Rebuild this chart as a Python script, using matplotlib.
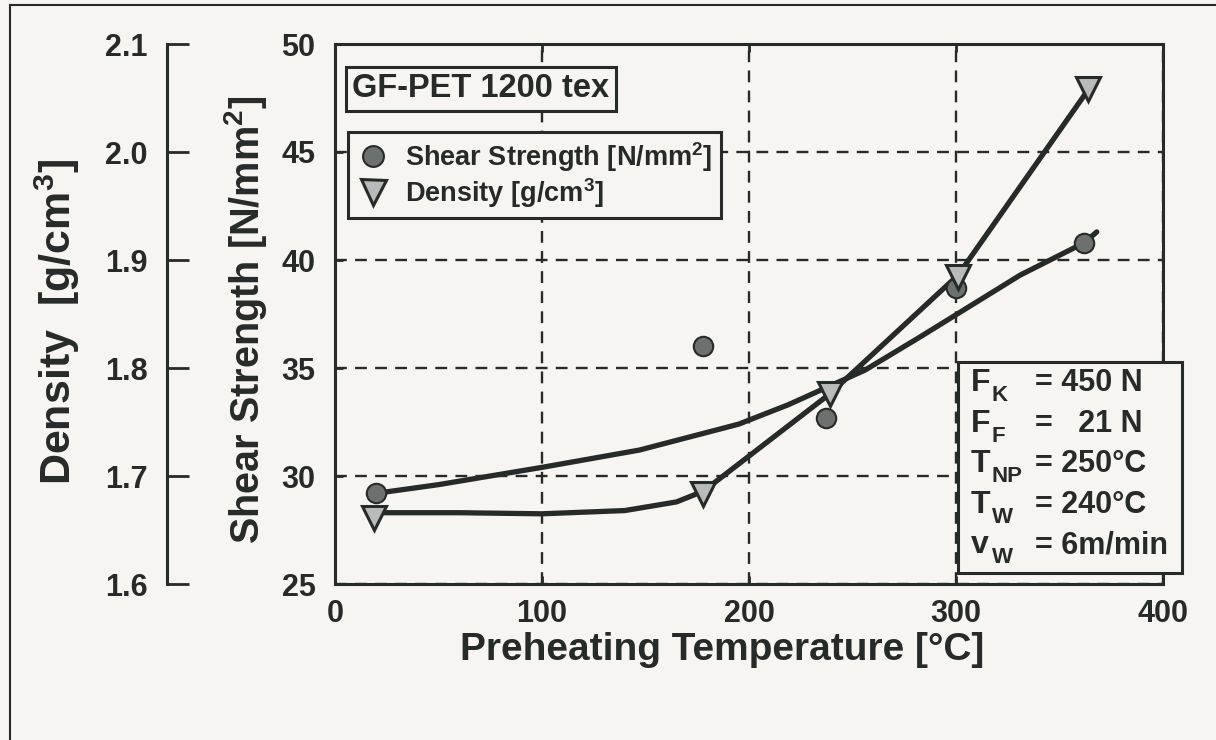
import numpy as np
import matplotlib.pyplot as plt
from matplotlib.patches import Rectangle
from matplotlib.lines import Line2D

# Schrift: fette Helvetica-Variante wie im Original
plt.rcParams['font.family'] = ['Liberation Sans', 'DejaVu Sans']
plt.rcParams['font.weight'] = 'bold'
plt.rcParams['axes.labelweight'] = 'bold'
plt.rcParams['mathtext.fontset'] = 'custom'
plt.rcParams['mathtext.rm'] = 'Liberation Sans:bold'
plt.rcParams['mathtext.bf'] = 'Liberation Sans:bold'
plt.rcParams['mathtext.it'] = 'Liberation Sans:bold'
plt.rcParams['mathtext.default'] = 'rm'

papier = '#f7f5f1'
tinte = '#262a28'

# Messpunkte
temp_shear = [20, 178, 237, 300, 362]
shear = [29.2, 36.0, 32.7, 38.7, 40.8]
temp_density = [19, 178, 239, 301, 364]
density = [1.661, 1.683, 1.776, 1.884, 2.058]

# eingezeichnete Trendkurven
shear_kurve_t = [20, 50, 100, 147, 195, 219, 256, 282, 331, 362, 368]
shear_kurve_v = [29.2, 29.6, 30.4, 31.2, 32.4, 33.3, 34.9, 36.4, 39.3, 40.8, 41.3]
density_kurve_t = [19, 60, 100, 140, 165, 178, 239, 301, 364]
density_kurve_v = [1.666, 1.666, 1.665, 1.668, 1.676, 1.686, 1.776, 1.886, 2.058]

x_ticks = [0, 100, 200, 300, 400]
shear_ticks = [25, 30, 35, 40, 45, 50]
density_ticks = [1.6, 1.7, 1.8, 1.9, 2.0, 2.1]

# Versuchsparameter: Buchstabe, Index, Wert
param_name = ['F', 'F', 'T', 'T', 'v']
param_index = ['K', 'F', 'NP', 'W', 'W']
param_wert = ['= 450 N', '=   21 N', '= 250°C', '= 240°C', '= 6m/min']

fig = plt.figure(figsize=(12.16, 7.40), dpi=100, facecolor=papier)
ax = fig.add_axes([335/1216, 1-584/740, 828/1216, 540/740])
ax.set_facecolor(papier)

ax.set_xlim(0, 400)
ax.set_ylim(25, 50)
ax.set_xticks(x_ticks)
ax.set_yticks(shear_ticks)
ax.tick_params(axis='both', direction='in', length=6, width=2, color=tinte,
               labelsize=22, top=True, right=True, colors=tinte)
ax.tick_params(axis='x', pad=11)
ax.tick_params(axis='y', pad=14)
for s in ax.spines.values():
    s.set_linewidth(2.2)
    s.set_color(tinte)
ax.grid(True, color=tinte, lw=1.7, linestyle=(0, (5, 3.5)))

ax.plot(shear_kurve_t, shear_kurve_v, color=tinte, lw=3.8, zorder=3, solid_capstyle='round')

ax2 = ax.twinx()
ax2.set_ylim(1.6, 2.1)
ax2.set_yticks(density_ticks)
ax2.set_yticklabels(['%.1f' % d for d in density_ticks])
ax2.spines['right'].set_visible(False)
ax2.spines['top'].set_visible(False)
ax2.spines['bottom'].set_visible(False)
ax2.spines['left'].set_visible(True)
ax2.spines['left'].set_position(('axes', -0.203))
ax2.spines['left'].set_linewidth(2.2)
ax2.spines['left'].set_color(tinte)
ax2.yaxis.set_ticks_position('left')
ax2.yaxis.set_label_position('left')
ax2.tick_params(axis='y', direction='in', length=16, width=2, color=tinte,
                labelsize=22, pad=14, labelcolor=tinte)

ax2.plot(density_kurve_t, density_kurve_v, color=tinte, lw=3.8, zorder=3, solid_capstyle='round')
ax2.plot(temp_shear, [1.6 + (v - 25) * 0.02 for v in shear], linestyle='none', marker='o',
         ms=14, mfc='#6c706e', mec=tinte, mew=1.5, zorder=4)
ax2.plot(temp_density, density, linestyle='none', marker='v', ms=17,
         mfc='#b8bbb9', mec=tinte, mew=2.2, zorder=5)

ax.set_xlabel('Preheating Temperature [°C]', fontsize=28, color=tinte)
ax.xaxis.set_label_coords(0.467, -0.088)
ax.set_ylabel('Shear Strength [N/mm$^2$]', fontsize=28.5, color=tinte)
ax.yaxis.set_label_coords(-0.08, 0.489)
ax2.set_ylabel('Density  [g/cm$^3$]', fontsize=31, color=tinte)
ax2.yaxis.set_label_coords(-0.305, 0.485)

# Kasten "GF-PET 1200 tex"
ax2.text(0.021, 0.917, 'GF-PET 1200 tex', transform=ax2.transAxes, fontsize=23.5,
         color=tinte, ha='left', va='center', zorder=10,
         bbox=dict(boxstyle='square,pad=0.2', fc=papier, ec=tinte, lw=2.2))

# Legende
h1 = Line2D([], [], linestyle='none', marker='o', ms=15, mfc='#6c706e', mec=tinte, mew=1.5)
h2 = Line2D([], [], linestyle='none', marker='v', ms=18, mfc='#b8bbb9', mec=tinte, mew=2.2)
leg = ax2.legend([h1, h2], ['Shear Strength [N/mm$^2$]', 'Density [g/cm$^3$]'],
                 loc='upper left', bbox_to_anchor=(0.016, 0.837), borderaxespad=0,
                 fancybox=False, framealpha=1, facecolor=papier, edgecolor=tinte,
                 fontsize=19.5, handletextpad=0.6, borderpad=0.3, labelspacing=0.08,
                 handlelength=1.2)
leg.get_frame().set_linewidth(2.2)
for t in leg.get_texts():
    t.set_color(tinte)
leg.set_zorder(10)

# Parameterkasten unten rechts
ax2.add_patch(Rectangle((0.752, 0.02), 0.271, 0.391, transform=ax2.transAxes,
                        fc=papier, ec=tinte, lw=2.2, clip_on=False, zorder=10))
for i in range(len(param_name)):
    y = 0.372 - i * 0.075
    ax2.text(0.768, y, param_name[i], transform=ax2.transAxes, fontsize=23, color=tinte,
             ha='left', va='center', zorder=11)
    ax2.annotate(param_index[i], xy=(0.768, y), xycoords='axes fraction',
                 xytext=(15, -9), textcoords='offset points', fontsize=16, color=tinte,
                 ha='left', va='center', zorder=11)
    ax2.text(0.846, y, param_wert[i], transform=ax2.transAxes, fontsize=22, color=tinte,
             ha='left', va='center', zorder=11)

# Rand der Vorlage
fig.add_artist(Line2D([10/1216, 10/1216], [0, 1-5/740], transform=fig.transFigure,
                      color=tinte, lw=1.5))
fig.add_artist(Line2D([10/1216, 1], [1-5/740, 1-5/740], transform=fig.transFigure,
                      color=tinte, lw=1.5))

fig.savefig('out.png', dpi=100, facecolor=papier)
